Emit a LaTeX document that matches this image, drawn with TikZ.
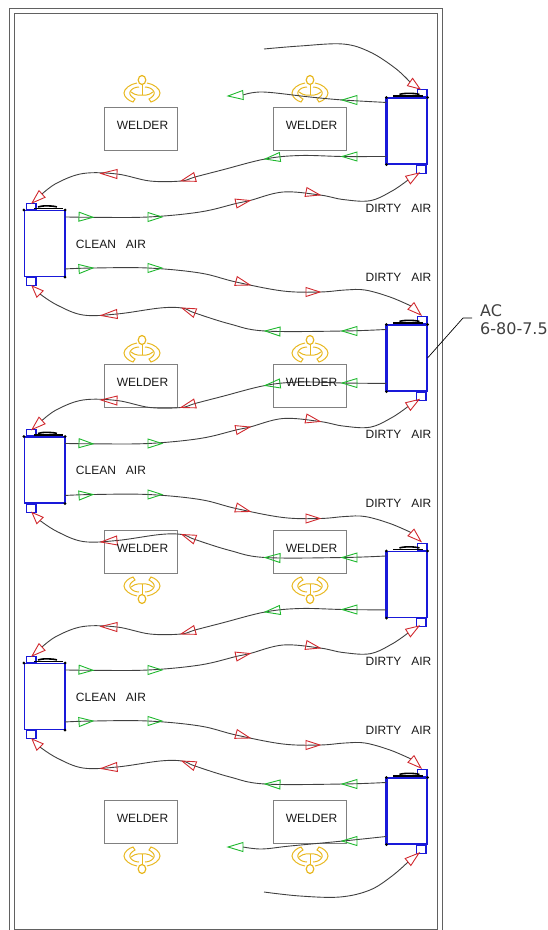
\documentclass[tikz,border=0pt]{standalone}
\usepackage{fontspec}
\usetikzlibrary{calc}
\newfontfamily\cadfont[WordSpace=3]{Liberation Sans}
\newfontfamily\notefont{DejaVu Sans}

\definecolor{unitblue}{rgb}{0.10, 0.10, 0.85}
\definecolor{flowred}{rgb}{0.82, 0.16, 0.18}
\definecolor{flowgreen}{rgb}{0.12, 0.72, 0.18}
\definecolor{welderyellow}{rgb}{0.91, 0.72, 0.13}
\definecolor{framegray}{rgb}{0.38, 0.38, 0.38}
\definecolor{boxgray}{rgb}{0.50, 0.50, 0.50}
\definecolor{curvegray}{rgb}{0.25, 0.25, 0.25}

\tikzset{
	unitbox/.style={draw=unitblue, line width=1.1pt, rectangle, inner sep=0pt, minimum width=40pt, minimum height=66pt},
	tabbox/.style={draw=unitblue, line width=1.1pt, rectangle, inner sep=0pt, minimum width=9.5pt, minimum height=7pt},
	welderbox/.style={draw=boxgray, line width=0.8pt, rectangle, inner sep=0pt, minimum width=73pt, minimum height=43pt},
	cadtext/.style={font=\cadfont\fontsize{12}{14}\selectfont, text=black!90, inner sep=0pt},
	flowline/.style={draw=curvegray, line width=0.9pt},
	redtri/.style={draw=flowred, line width=0.9pt, line join=miter},
	greentri/.style={draw=flowgreen, line width=0.9pt, line join=miter},
	welderfig/.pic={
		% One half of the man, then the same half mirrored
		\foreach \s in {-1,1}{
			\begin{scope}[xscale=\s, line width=1pt]
				\draw[welderyellow] (5,3) .. controls (12,4) and (18,9) .. (18,13) .. controls (18,17) and (13,21) .. (9,22) -- (7,19) .. controls (11,17) and (13,14) .. (12,12) .. controls (11,9) and (7,7) .. (3,7);
				\draw[welderyellow] (11,12) .. controls (6,16) and (2,15) .. (0,15);
			\end{scope}
		}
		\draw[welderyellow, line width=1.2pt] (0,0) ellipse (3.8 and 4.5);
		\draw[welderyellow, line width=0.8pt] (0,5) -- (0,15);
	}
}

% Small open triangle on a curve: style, tip, middle of the base
\newcommand{\flowtri}[3]{\draw[#1] (#2) -- ($(#3)!4.5pt!90:(#2)$) -- ($(#3)!4.5pt!-90:(#2)$) -- cycle;}

\begin{document}
\begin{tikzpicture}[x=1pt,y=1pt,yscale=-1,xscale=1]
	\useasboundingbox (0,0) rectangle (548,930);

	% Double frame of the room, the outer one runs off the page
	\draw[framegray, line width=1pt] (9,8) rectangle (442,940);
	\draw[framegray, line width=1pt] (14,13) rectangle (437,929);

	% Welding tables
	\foreach \r/\ypos in {1/128.5,2/385.5,3/551.5,4/821.5}{
		\node[welderbox] (tableleft\r) at (140.5,\ypos) {};
		\node[welderbox] (tableright\r) at (309.5,\ypos) {};
	}

	% Welders, a pic drops the picture's yscale so the upper rows flip it back
	\foreach \xpos in {142,310}{
		\pic[yscale=-1] at (\xpos,80) {welderfig};
		\pic[yscale=-1] at (\xpos,340) {welderfig};
		\pic at (\xpos,599) {welderfig};
		\pic at (\xpos,869) {welderfig};
	}

	% Collector units on the right wall
	\foreach \k/\ypos in {0/131,1/358,2/584.5,3/811}{
		\node[unitbox] (rightunit\k) at (407,\ypos) {};
		\node[tabbox, anchor=south east] (rightunit\k-top) at (rightunit\k.north east) {};
		\node[tabbox, anchor=north east, minimum height=8pt] (rightunit\k-bot) at ($(rightunit\k.south east)+(-1,0)$) {};
		\coordinate (rightunit\k-upper) at ($(rightunit\k.north west)+(0,5)$);
		\coordinate (rightunit\k-lower) at ($(rightunit\k.north west)+(0,59)$);
		\draw[unitblue, line width=2pt] (rightunit\k.north west) -- (rightunit\k.south west);
		\fill (rightunit\k.north west) circle (1.5);
		\fill (rightunit\k.north east) circle (1.5);
		\fill (rightunit\k.south west) circle (1.5);
		\draw[black, line width=1.6pt] ($(rightunit\k.north west)+(7,-1.5)$) -- ($(rightunit\k.north east)+(-5,-1.5)$);
		\draw[black, line width=1.6pt] ($(rightunit\k.north west)+(13,-3)$) .. controls ($(rightunit\k.north west)+(17,-4.5)$) and ($(rightunit\k.north west)+(28,-4.5)$) .. ($(rightunit\k.north west)+(33,-3)$);
	}

	% Collector units on the left wall
	\foreach \k/\ypos in {0/243.5,1/470,2/696.5}{
		\node[unitbox] (leftunit\k) at (44.5,\ypos) {};
		\node[tabbox, anchor=south west, minimum height=6pt] (leftunit\k-top) at ($(leftunit\k.north west)+(2,0)$) {};
		\node[tabbox, anchor=north west, minimum height=8pt] (leftunit\k-bot) at ($(leftunit\k.south west)+(2,0)$) {};
		\coordinate (leftunit\k-upper) at ($(leftunit\k.north east)+(0,7)$);
		\coordinate (leftunit\k-lower) at ($(leftunit\k.north east)+(0,59)$);
		\draw[unitblue, line width=2pt] (leftunit\k.north east) -- (leftunit\k.south east);
		\fill (leftunit\k.north west) circle (1.5);
		\fill (leftunit\k.north east) circle (1.5);
		\fill (leftunit\k.south east) circle (1.5);
		\draw[black, line width=1.6pt] ($(leftunit\k.north west)+(10,-1.5)$) -- ($(leftunit\k.north east)+(-2,-1.5)$);
		\draw[black, line width=1.6pt] ($(leftunit\k.north west)+(14,-3)$) .. controls ($(leftunit\k.north west)+(18,-4.5)$) and ($(leftunit\k.north west)+(28,-4.5)$) .. ($(leftunit\k.north west)+(33,-3)$);
	}

	% Top run, free ends only on this side
	\coordinate (topinlet) at (264,49);
	\coordinate (topoutlet) at (243,95);
	\draw[flowline] plot[smooth, tension=0.6] coordinates {(topinlet) (300,46) (343,44) (370,52) (395,68) (410,82)};
	\draw[flowline] plot[smooth, tension=0.6] coordinates {(rightunit0-upper) (343,100) (310,97) (263,92) (topoutlet)};
	\flowtri{redtri}{420,89}{410,82}
	\flowtri{greentri}{342,100}{357,100}
	\flowtri{greentri}{228,96}{243,95}

	% The three repeated bays between the right and left walls
	\foreach \k/\n/\dy in {0/1/0,1/2/226.5,2/3/453}{
		\begin{scope}[shift={(0,\dy)}]
			% Right unit, lower outlet, over to the inlet on top of the left unit
			\draw[flowline] plot[smooth, tension=0.6] coordinates {(rightunit\k-lower) (343,156.5) (300,155.5) (265,159) (222,170) (195,177) (181,181) (150,181) (117,174) (83,173.5) (57,183) (42,194)};
			% Left unit, upper outlet, over to the inlet under the right unit
			\draw[flowline] plot[smooth, tension=0.6] coordinates {(leftunit\k-upper) (93,217.3) (148,217) (200,212) (236,203.5) (250,200.5) (283,192) (320,195) (343,199.5) (370,200.7) (392,191) (408,180)};
			% Left unit, lower outlet, over to the inlet on top of the next right unit
			\draw[flowline] plot[smooth, tension=0.6] coordinates {(leftunit\k-lower) (93,268) (148,268) (200,273) (236,282) (283,291) (320,292) (345,290) (365,290) (390,297) (411,306)};
			% Next right unit, upper outlet, over to the inlet under the left unit
			\draw[flowline] plot[smooth, tension=0.6] coordinates {(rightunit\n-upper) (343,331) (265,331) (230,324) (195,313) (182,308) (160,308) (117,314) (83,315) (57,305) (40,294)};

			% Triangles on the curves
			\foreach \tx/\ty/\bx/\by in {342/156.5/357/156.5, 265/159/280/157, 93/217.3/79/216.7, 162/217/148/217, 93/268/79/269, 162/268/148/268, 342/331/357/331, 265/331/280/331.5}{
				\flowtri{greentri}{\tx,\ty}{\bx,\by}
			}
			\foreach \tx/\ty/\bx/\by in {181/181/195/177, 101/173.5/117/174, 32/203/42/194, 250/200.5/236/203.5, 320/195/306/192, 419/173/408/180, 250/285/236/281, 320/292/306/292, 421/315/411/306, 182/308/195/313, 101/315.5/117/314, 32/286/40/294}{
				\flowtri{redtri}{\tx,\ty}{\bx,\by}
			}

			% Labels of the bay
			\node[cadtext] (dirtylabel\k-a) at (398.5,208) {DIRTY AIR};
			\node[cadtext] (dirtylabel\k-b) at (398.5,277) {DIRTY AIR};
			\node[cadtext] (cleanlabel\k) at (111,244) {CLEAN AIR};
		\end{scope}
	}

	% Bottom run, free ends only on this side
	\coordinate (botinlet) at (264,892);
	\coordinate (botoutlet) at (243,847);
	\draw[flowline] plot[smooth, tension=0.6] coordinates {(botinlet) (300,896) (340,897) (370,890) (392,876) (408,862)};
	\draw[flowline] plot[smooth, tension=0.6] coordinates {(rightunit3-lower) (343,841) (290,846) (262,849) (botoutlet)};
	\flowtri{redtri}{419,853}{408,862}
	\flowtri{greentri}{342,841}{357,841}
	\flowtri{greentri}{228,847}{243,847}

	% Table labels
	\foreach \r/\ypos in {1/125.5,2/382.5,3/548.5,4/818.5}{
		\node[cadtext] (welderleft\r) at (142.5,\ypos) {WELDER};
		\node[cadtext] (welderright\r) at (311.5,\ypos) {WELDER};
	}

	% Callout of the unit type
	\node[anchor=west, align=left, inner sep=0pt, text=black!75, font=\notefont\fontsize{16}{18}\selectfont] (unitnote) at (480,320) {AC\\6-80-7.5};
	\coordinate (unitnotefoot) at (472,318);
	\draw[black, line width=0.7pt] (unitnotefoot) -- (463,318) -- (rightunit1.east);
\end{tikzpicture}
\end{document}
